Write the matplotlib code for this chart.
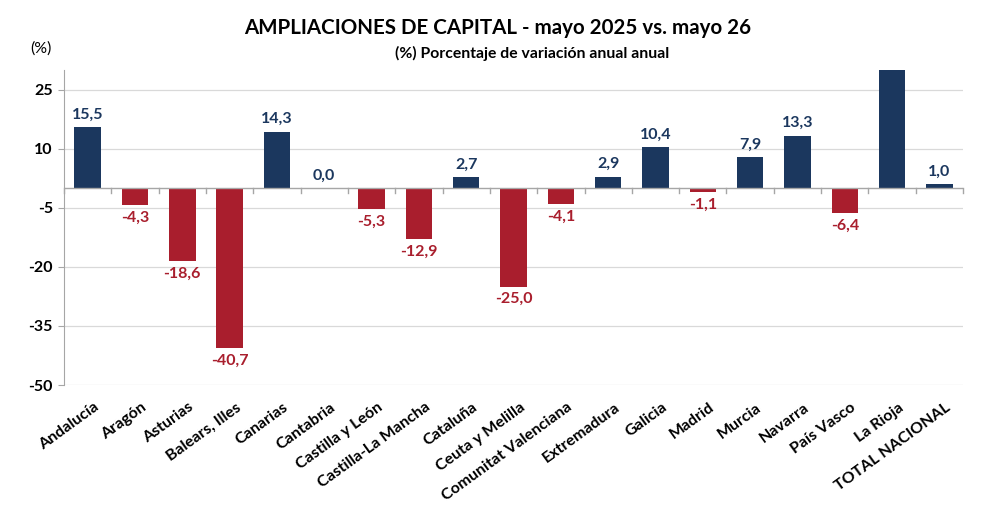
import matplotlib
matplotlib.use("Agg")
import matplotlib.pyplot as plt
import numpy as np

plt.rcParams['font.family'] = ['Lato', 'DejaVu Sans']

categories = ["Andalucía", "Aragón", "Asturias", "Balears, Illes", "Canarias", "Cantabria",
              "Castilla y León", "Castilla-La Mancha", "Cataluña", "Ceuta y Melilla",
              "Comunitat Valenciana", "Extremadura", "Galicia", "Madrid", "Murcia",
              "Navarra", "País Vasco", "La Rioja", "TOTAL NACIONAL"]
values = [15.5, -4.3, -18.6, -40.7, 14.3, 0.0, -5.3, -12.9, 2.7, -25.0,
          -4.1, 2.9, 10.4, -1.1, 7.9, 13.3, -6.4, 45.0, 1.0]
yticks = [25, 10, -5, -20, -35, -50]
title = "AMPLIACIONES DE CAPITAL - mayo 2025 vs. mayo 26"
subtitle = "(%) Porcentaje de variación anual anual"

NAVY = "#1B375E"
RED = "#A91E2D"

fig = plt.figure(figsize=(9.98, 5.05), dpi=100)
ax = fig.add_axes([0.0641, 0.2376, 0.9009, 0.6238])
ymin, ymax = -50, 30
ax.set_ylim(ymin, ymax)
n = len(categories)
ax.set_xlim(-0.5, n - 0.5)
x = np.arange(n)
colors = [NAVY if v >= 0 else RED for v in values]
ax.bar(x, values, width=0.56, color=colors, zorder=3)

for xi, v, c in zip(x, values, colors):
    if v > ymax:
        continue
    lab = f"{v:.1f}".replace(".", ",")
    if v >= 0:
        ax.annotate(lab, (xi, v), xytext=(0, 4), textcoords="offset points",
                    ha="center", va="bottom", color=c, fontsize=11.5, fontweight="bold")
    else:
        ax.annotate(lab, (xi, v), xytext=(0, -4), textcoords="offset points",
                    ha="center", va="top", color=c, fontsize=11.5, fontweight="bold")

ax.set_yticks(yticks)
ax.set_yticklabels([str(t) for t in yticks], fontsize=11.5, fontweight="bold")
ax.yaxis.grid(True, color="#D9D9D9", linewidth=0.9, zorder=0)
ax.tick_params(axis="y", length=4, color="#A6A6A6", pad=4)
ax.set_xticks([])
for s in ["top", "right", "bottom"]:
    ax.spines[s].set_visible(False)
ax.spines["left"].set_color("#A6A6A6")

# zero axis line with category tick marks
ax.axhline(0, color="#A6A6A6", linewidth=1.0, zorder=4)
for b in np.arange(-0.5, n, 1.0):
    ax.plot([b, b], [0, -1.2], color="#A6A6A6", linewidth=1.0, zorder=4, clip_on=False)

# category labels below the plot
for xi, cat in zip(x, categories):
    ax.annotate(cat, (xi + 0.12, ymin), xytext=(0, -11), textcoords="offset points",
                ha="right", va="top", rotation=36, rotation_mode="anchor",
                fontsize=11.5, fontweight="bold", color="black")

fig.text(0.499, 0.945, title, ha="center", va="center", fontsize=14.8, fontweight="bold")
fig.text(0.533, 0.895, subtitle, ha="center", va="center", fontsize=11.3, fontweight="bold")
fig.text(0.041, 0.904, "(%)", ha="center", va="center", fontsize=11.5)

fig.savefig("out.png", dpi=100)
